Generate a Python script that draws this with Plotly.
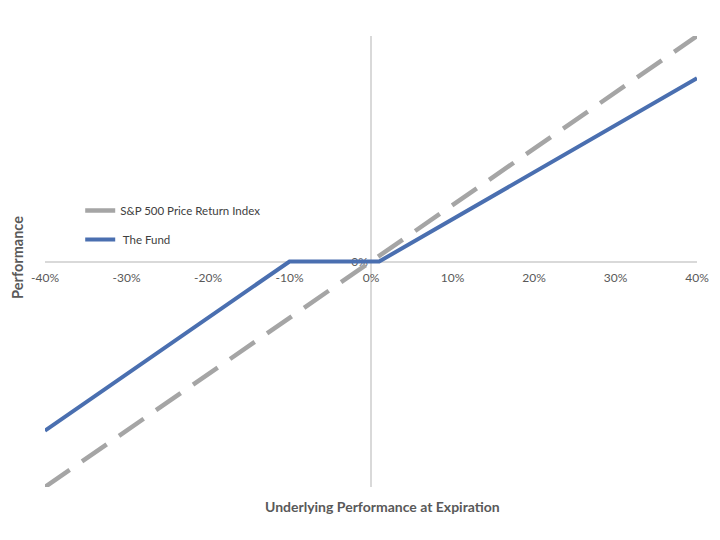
import plotly.graph_objects as go

# Data (percent)
sp_x = [-40, 40]
sp_y = [-40, 40]
fund_x = [-40, -10, 1, 40]
fund_y = [-30, 0, 0, 32.5]
x_ticks = [-40, -30, -20, -10, 0, 10, 20, 30, 40]
x_ticklabels = ["-40%", "-30%", "-20%", "-10%", "0%", "10%", "20%", "30%", "40%"]
y_ticks = [0]
y_ticklabels = ["0%"]

FONT = "Lato"
GRAY_TXT = "#595959"

fig = go.Figure()
fig.add_trace(go.Scatter(
    x=sp_x, y=sp_y, mode="lines", name="S&P 500 Price Return Index",
    line=dict(color="#a5a5a5", width=4.5, dash="30px,15px"),
    legendgroup="a",
))
fig.add_trace(go.Scatter(
    x=fund_x, y=fund_y, mode="lines", name=" The Fund",
    line=dict(color="#4a6fb0", width=4),
    legendgroup="b",
))

fig.update_layout(
    width=712, height=532,
    paper_bgcolor="white", plot_bgcolor="white",
    margin=dict(l=37, r=23, t=28, b=53),
    font=dict(family=FONT, color=GRAY_TXT, size=12),
    showlegend=True,
    legend=dict(
        x=0.054, y=0.645, xanchor="left", yanchor="top",
        bgcolor="rgba(0,0,0,0)", tracegroupgap=10,
        font=dict(size=11.5, color="#404040", family=FONT),
        itemwidth=30,
    ),
    xaxis=dict(
        range=[-40, 40], anchor="free", position=0.5, automargin=False,
        showgrid=False, zeroline=False, showline=True, layer="below traces",
        linecolor="#d9d9d9", linewidth=1.5,
        tickvals=x_ticks, ticktext=x_ticklabels,
        ticks="outside", ticklen=5, tickcolor="rgba(0,0,0,0)",
        tickfont=dict(size=12, color=GRAY_TXT, family=FONT),
    ),
    yaxis=dict(
        range=[-40, 40], anchor="free", position=0.5, automargin=False,
        showgrid=False, zeroline=False, showline=True, layer="below traces",
        linecolor="#d9d9d9", linewidth=1.5,
        tickvals=y_ticks, ticktext=y_ticklabels, ticks="",
        tickfont=dict(size=12, color=GRAY_TXT, family=FONT),
    ),
    annotations=[
        dict(text="<b>Underlying Performance at Expiration</b>", x=0.518, y=-0.0443,
             xref="paper", yref="paper", showarrow=False, xanchor="center", yanchor="middle",
             font=dict(size=14, color=GRAY_TXT, family=FONT)),
        dict(text="<b>Performance</b>", x=-0.0414, y=0.508, textangle=-90,
             xref="paper", yref="paper", showarrow=False, xanchor="center", yanchor="middle",
             font=dict(size=14.5, color=GRAY_TXT, family=FONT)),
    ],
)

fig.write_html("out.html")
